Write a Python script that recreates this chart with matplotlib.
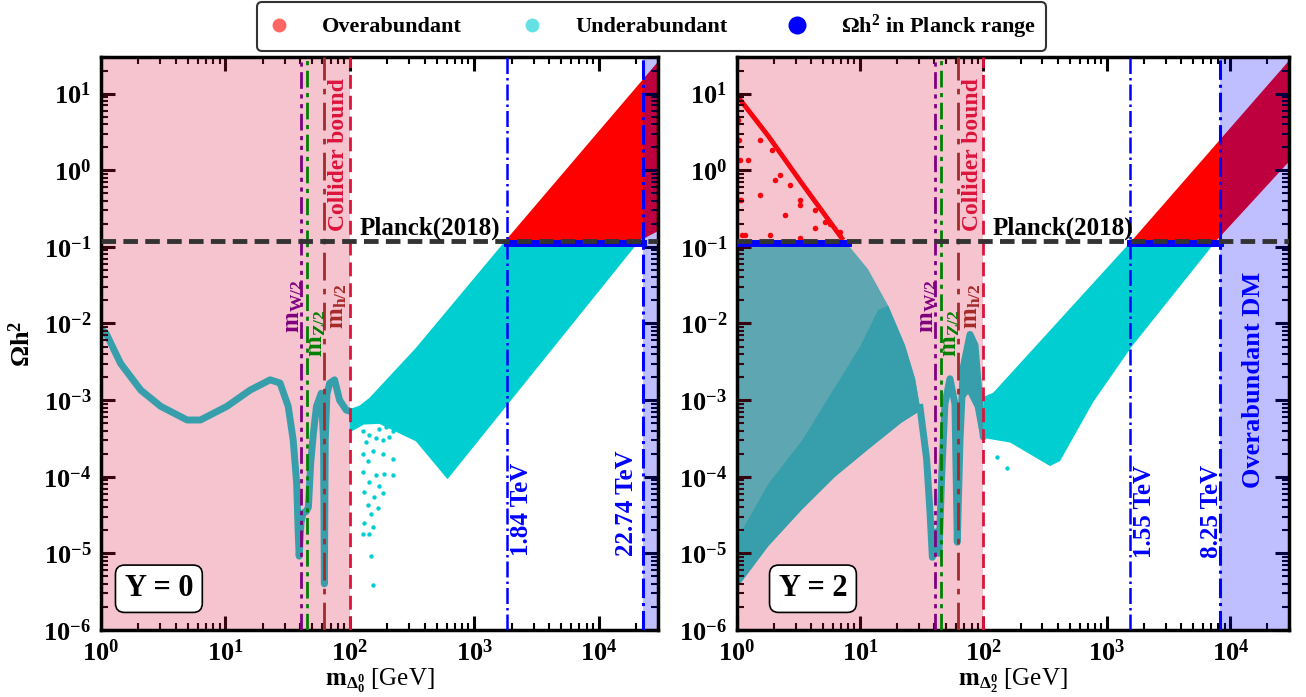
import numpy as np
import matplotlib
matplotlib.use("Agg")
import matplotlib.pyplot as plt
from matplotlib.ticker import LogLocator, NullFormatter
from matplotlib.lines import Line2D

plt.rcParams['font.family'] = 'Liberation Serif'
plt.rcParams['font.weight'] = 'bold'
plt.rcParams['mathtext.fontset'] = 'custom'
plt.rcParams['mathtext.rm'] = 'Liberation Serif:bold'
plt.rcParams['mathtext.it'] = 'Liberation Serif:italic:bold'
plt.rcParams['mathtext.bf'] = 'Liberation Serif:bold'
plt.rcParams['mathtext.default'] = 'bf'

# ---------------- data ----------------
# Y = 0 panel
curve0_x = [1.0, 1.1, 1.44, 2.09, 3.02, 4.93, 6.3, 10.3, 15.8, 22.9, 27.5, 32, 35.1, 37.4, 38.5, 39.2,
            40.5, 42.2, 44.5, 46.5, 48.5, 51, 54, 59, 61.5, 62.5, 63.5, 65.5, 68.9, 75.5, 82.8, 93.7, 112]
curve0_y = [8.5e-3, 7.4e-3, 3.0e-3, 1.35e-3, 8.3e-4, 5.5e-4, 5.5e-4, 8.3e-4, 1.35e-3, 1.84e-3, 1.67e-3,
            8.3e-4, 3.0e-4, 8.3e-5, 1.85e-5, 9.2e-6, 2.5e-5, 3.4e-5, 3.5e-5, 4e-5, 1.5e-4, 3.7e-4, 8.3e-4,
            1.23e-3, 3e-4, 4e-6, 3e-4, 1.2e-3, 1.66e-3, 1.84e-3, 1.0e-3, 7.4e-4, 6.8e-4]
under0_x = [100, 120, 144, 340, 1780, 21300, 610, 340, 173, 130, 100]
under0_y = [7.6e-4, 8.5e-4, 1.07e-3, 4.8e-3, 0.12, 0.12, 9.3e-5, 2.9e-4, 4.9e-4, 4.8e-4, 3.8e-4]
over0_x = [1780, 30000, 30000, 21300]
over0_y = [0.12, 26, 0.16, 0.12]
planck0_x = [1840, 22740]
dots0_x = [127, 144, 173, 196, 221, 135, 163, 184, 208, 127, 153, 184, 140, 221, 127, 163, 190, 221,
           144, 173, 131, 158, 184, 140, 168, 149, 131, 153, 127, 144, 149, 153]
dots0_y = [3.9e-4, 3.5e-4, 4.2e-4, 4.4e-4, 3.9e-4, 2.8e-4, 3.2e-4, 3.0e-4, 3.3e-4, 2.0e-4, 2.15e-4,
           2.0e-4, 1.6e-4, 1.7e-4, 1.17e-4, 1.05e-4, 1.1e-4, 1.05e-4, 8.5e-5, 7.6e-5, 6.4e-5, 5.4e-5,
           6.1e-5, 4.3e-5, 3.9e-5, 3.3e-5, 2.5e-5, 2.24e-5, 1.8e-5, 1.8e-5, 9.3e-6, 3.9e-6]

# Y = 2 panel
fan2_x = [1.0, 1.8, 3.36, 7.1]
fan2_y = [9.5, 2.8, 0.68, 0.13]
# dotted red arcs below the fan edge
arcs2_x = [[1.024, 1.04, 1.063, 1.08, 1.10],
           [1.063, 1.235, 1.545, 1.93, 2.24],
           [1.168, 1.545, 2.04, 2.70, 3.26],
           [1.86, 2.46, 3.26, 4.31, 5.2],
           [3.26, 4.31, 5.7, 6.87]]
arcs2_y = [[4.5, 2.48, 1.36, 0.41, 0.143],
           [0.41, 1.36, 2.48, 1.83, 0.86],
           [0.143, 0.475, 0.745, 0.64, 0.41],
           [0.143, 0.26, 0.35, 0.30, 0.21],
           [0.13, 0.176, 0.20, 0.156]]
cloud2_x = [1.0, 7.5, 11.6, 16.9, 23.1, 27.9, 30.6, 28.8, 21.7, 11.6, 6.26, 3.36, 1.8, 1.0]
cloud2_y = [0.12, 0.12, 0.051, 0.017, 5.2e-3, 1.9e-3, 8e-4, 6.8e-4, 5.1e-4, 2.27e-4, 1.0e-4, 3.7e-5,
            1.24e-5, 3.5e-6]
dense2_x = [1.0, 1.8, 3.4, 6.3, 10, 14, 16.9, 23.1, 27.9, 30.6, 28.8, 21.7, 11.6, 6.26, 3.36, 1.8, 1.0]
dense2_y = [1.5e-5, 8e-5, 3e-4, 1.5e-3, 5e-3, 0.015, 0.017, 5.2e-3, 1.9e-3, 8e-4, 6.8e-4, 5.1e-4,
            2.27e-4, 1.0e-4, 3.7e-5, 1.24e-5, 3.5e-6]
dip2_x = [30.6, 34.6, 36.9, 38.5, 41.2, 43.6, 45.8, 48.7, 53.5, 58.7, 61.3, 64.5, 68.6, 77.8, 85.4,
          90.8, 99.6, 106]
dip2_y = [8e-4, 1.7e-4, 3.3e-5, 8.9e-6, 1.9e-5, 1.0e-5, 1.0e-4, 8.9e-4, 1.9e-3, 8.9e-4, 1.4e-5, 3e-4,
          2.7e-3, 7.2e-3, 5.2e-3, 1.55e-3, 3.3e-4, 5e-4]
bump2_x = [64.5, 68.6, 77.8, 85.4, 90.8, 99.6, 99.6, 92, 85, 75, 68]
bump2_y = [3e-4, 2.7e-3, 7.2e-3, 5.2e-3, 1.55e-3, 3.3e-4, 3e-4, 4e-4, 8e-4, 1.2e-3, 1.0e-3]
under2_x = [100, 120, 1590, 7700, 1590, 776, 417, 346, 164, 100]
under2_y = [1.1e-3, 1.25e-3, 0.12, 0.12, 5e-3, 9.5e-4, 1.6e-4, 1.38e-4, 2.8e-4, 3.2e-4]
over2_x = [1590, 30000, 30000, 7700]
over2_y = [0.12, 27, 1.3, 0.12]
planck2_lo_x = [1.0, 8.0]
planck2_hi_x = [1550, 8250]
dots2_x = [128, 154]
dots2_y = [1.8e-4, 1.3e-4]

# axis ticks and reference masses / bounds
xticks = [1e0, 1e1, 1e2, 1e3, 1e4]
yticks = [1e-6, 1e-5, 1e-4, 1e-3, 1e-2, 1e-1, 1e0, 1e1]
m_w2, m_z2, m_h2, collider = 40.2, 45.6, 62.5, 100
omega_planck = 0.12

CYAN = '#00CED1'


def style(ax):
    ax.set_xscale('log')
    ax.set_yscale('log')
    ax.set_xlim(1, 3e4)
    ax.set_ylim(1e-6, 3e1)
    ax.set_xticks(xticks)
    ax.set_yticks(yticks)
    ax.xaxis.set_minor_locator(LogLocator(base=10, subs=np.arange(2, 10), numticks=100))
    ax.yaxis.set_minor_locator(LogLocator(base=10, subs=np.arange(2, 10), numticks=100))
    ax.xaxis.set_minor_formatter(NullFormatter())
    ax.yaxis.set_minor_formatter(NullFormatter())
    ax.tick_params(which='both', direction='in', top=True, right=True)
    ax.tick_params(which='major', length=10, width=2.2, labelsize=19, pad=7)
    ax.tick_params(which='minor', length=5, width=1.5)
    for s in ax.spines.values():
        s.set_linewidth(2.5)


def common(ax, right_edge, tev_lo, tev_hi):
    # shaded regions drawn over the points (alpha blend gives the teal / crimson tones)
    ax.axvspan(1, collider, color='crimson', alpha=0.25, lw=0, zorder=2)
    ax.axvspan(tev_hi, right_edge, color='blue', alpha=0.25, lw=0, zorder=2)
    ax.axvline(m_w2, color='purple', lw=2, dashes=(6, 2, 1.5, 2, 1.5, 2), zorder=3)
    ax.axvline(m_z2, color='green', lw=2, dashes=(6, 2, 1.5, 2), zorder=3)
    ax.axvline(m_h2, color='brown', lw=2, dashes=(10, 3, 2, 3), zorder=3)
    ax.axvline(collider, color='crimson', lw=2, ls=(0, (5, 2.5)), zorder=3)
    ax.axvline(tev_lo, color='blue', lw=1.8, ls='-.', zorder=3)
    ax.axvline(tev_hi, color='blue', lw=2.2, ls='-.', zorder=3)
    ax.axhline(omega_planck, color='#333333', lw=3.5, ls=(0, (3, 1.5)), zorder=4)
    ax.text(81, 1.6, 'Collider bound', color='crimson', fontsize=17, rotation=90,
            ha='center', va='center', zorder=5)
    ax.text(441, 0.175, 'Planck(2018)', color='black', fontsize=18, ha='center', va='center', zorder=5)
    ax.text(35, 0.017, r'$\mathbf{m_{W/2}}$', color='purple', fontsize=18, rotation=90,
            ha='center', va='center', zorder=5)
    ax.text(54, 7.5e-3, r'$\mathbf{m_{Z/2}}$', color='green', fontsize=18, rotation=90,
            ha='center', va='center', zorder=5)
    ax.text(80, 0.017, r'$\mathbf{m_{h/2}}$', color='brown', fontsize=18, rotation=90,
            ha='center', va='center', zorder=5)


fig = plt.figure(figsize=(13.06, 6.97), dpi=100)
ax1 = fig.add_axes([0.0773, 0.0961, 0.4265, 0.8221])
ax2 = fig.add_axes([0.5641, 0.0961, 0.4230, 0.8221])

# ---- left panel, Y = 0 ----
style(ax1)
ax1.fill(under0_x, under0_y, color=CYAN, lw=0, zorder=1)
ax1.fill(over0_x, over0_y, color='red', lw=0, zorder=1)
ax1.plot(curve0_x, curve0_y, color=CYAN, lw=5, solid_joinstyle='round', zorder=1)
ax1.scatter(dots0_x, dots0_y, s=10, color=CYAN, lw=0, zorder=1)
ax1.plot(planck0_x, [0.113, 0.113], color='blue', lw=5, zorder=3)
common(ax1, 3e4, 1840, 22740)
ax1.text(2420, 3.7e-5, '1.84 TeV', color='blue', fontsize=18, rotation=90, ha='center', va='center', zorder=5)
ax1.text(16900, 4.5e-5, '22.74 TeV', color='blue', fontsize=18, rotation=90, ha='center', va='center', zorder=5)
ax1.text(0.104, 0.072, 'Y = 0', transform=ax1.transAxes, fontsize=22, ha='center', va='center', zorder=6,
         bbox=dict(boxstyle='round,pad=0.3', fc='white', ec='black', lw=1.2))
ax1.set_xlabel(r'$\mathbf{m_{\Delta_0^0}}$ [GeV]', fontsize=18, labelpad=0)
ax1.set_ylabel(r'$\mathbf{\Omega h^2}$', fontsize=19, labelpad=6)

# ---- right panel, Y = 2 ----
style(ax2)
ax2.fill(cloud2_x, cloud2_y, color=CYAN, alpha=0.8, lw=0, zorder=1)
ax2.fill(dense2_x, dense2_y, color=CYAN, lw=0, zorder=1)
ax2.plot(dip2_x, dip2_y, color=CYAN, lw=5, solid_joinstyle='round', zorder=1)
ax2.fill(bump2_x, bump2_y, color=CYAN, lw=0, zorder=1)
ax2.fill(under2_x, under2_y, color=CYAN, lw=0, zorder=1)
ax2.scatter(dots2_x, dots2_y, s=10, color=CYAN, lw=0, zorder=1)
ax2.fill(over2_x, over2_y, color='red', lw=0, zorder=1)
ax2.plot(fan2_x, fan2_y, color='red', lw=3.5, zorder=1)
for arc_x, arc_y in zip(arcs2_x, arcs2_y):
    ax2.plot(arc_x, arc_y, color='red', ls='none', marker='o', ms=4, mec='none', zorder=1)
ax2.plot(planck2_lo_x, [0.113, 0.113], color='blue', lw=5, zorder=3)
ax2.plot(planck2_hi_x, [0.113, 0.113], color='blue', lw=5, zorder=3)
common(ax2, 3e4, 1550, 8250)
ax2.text(2036, 3.5e-5, '1.55 TeV', color='blue', fontsize=18, rotation=90, ha='center', va='center', zorder=5)
ax2.text(7070, 3.5e-5, '8.25 TeV', color='blue', fontsize=18, rotation=90, ha='center', va='center', zorder=5)
ax2.text(15360, 1.84e-3, 'Overabundant DM', color='blue', fontsize=19, rotation=90,
         ha='center', va='center', zorder=5)
ax2.text(0.138, 0.072, 'Y = 2', transform=ax2.transAxes, fontsize=22, ha='center', va='center', zorder=6,
         bbox=dict(boxstyle='round,pad=0.3', fc='white', ec='black', lw=1.2))
ax2.set_xlabel(r'$\mathbf{m_{\Delta_2^0}}$ [GeV]', fontsize=18, labelpad=0)

# ---- legend ----
handles = [
    Line2D([], [], ls='none', marker='o', ms=10, mfc='red', mec='none', alpha=0.6),
    Line2D([], [], ls='none', marker='o', ms=10, mfc=CYAN, mec='none', alpha=0.6),
    Line2D([], [], ls='none', marker='o', ms=13, mfc='blue', mec='none'),
]
labels = ['Overabundant', 'Underabundant', r'$\mathbf{\Omega h^2}$ in Planck range']
leg = fig.legend(handles, labels, loc='center', bbox_to_anchor=(0.499, 0.962), ncol=3, fontsize=16,
                 frameon=True, fancybox=True, edgecolor='black', handlelength=1.0, handletextpad=1.45,
                 columnspacing=2.65, borderpad=0.45)
leg.get_frame().set_linewidth(1.5)

fig.savefig('out.png', dpi=100)
